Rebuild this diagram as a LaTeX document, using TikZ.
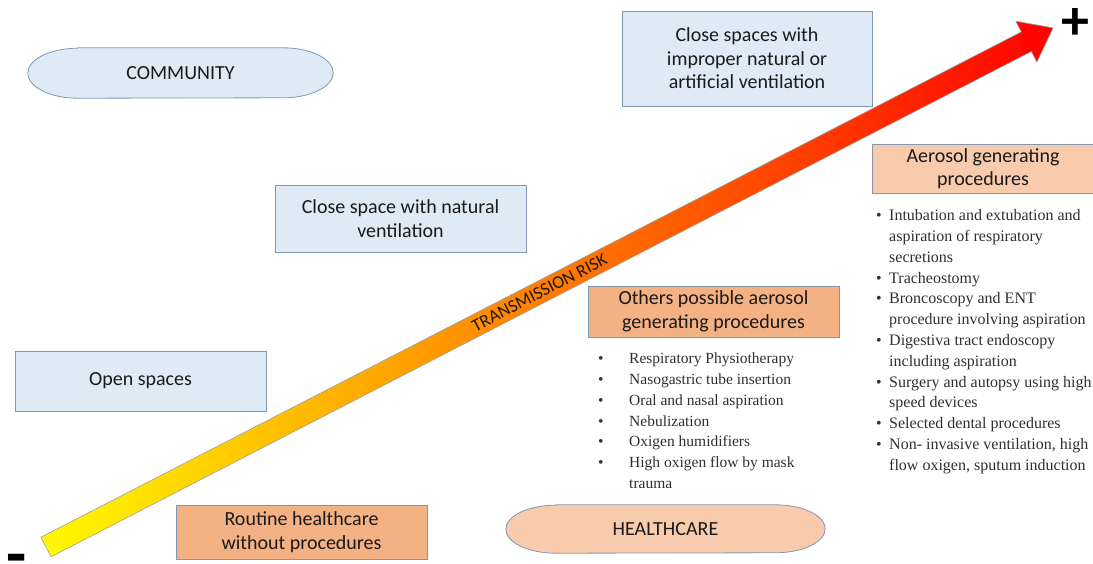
\documentclass[tikz,border=0pt]{standalone}
\usepackage{fontspec}
\setmainfont{Carlito}
\newfontfamily\serifx{Liberation Serif}
\usetikzlibrary{calc}
\pgfdeclarelayer{background}
\pgfsetlayers{background,main}
\definecolor{boxblue}{HTML}{DEEBF7}
\definecolor{boxorange}{HTML}{F4B183}
\definecolor{boxpeach}{HTML}{F8CBAD}
\definecolor{boxline}{HTML}{8497B0}
\definecolor{txt}{HTML}{1A1A1A}
\definecolor{listtxt}{HTML}{303030}
\definecolor{ayellow}{RGB}{255,250,0}
\definecolor{aorange}{RGB}{250,150,30}
\definecolor{ared}{RGB}{255,0,0}
\newcommand\pillpath[4]{%
  \begin{pgfonlayer}{background}
  \path[fill=#2, draw=boxline, line width=0.8pt]
    ([xshift=#3]#1.north west) -- ([xshift=-#3]#1.north east)
    arc[start angle=90, end angle=-90, x radius=#3, y radius=#4]
    -- ([xshift=#3]#1.south west)
    arc[start angle=-90, end angle=-270, x radius=#3, y radius=#4] -- cycle;
  \end{pgfonlayer}}
\begin{document}
\begin{tikzpicture}[x=1pt, y=-1pt,
  boxtext/.style={align=center, inner sep=0pt, text=txt,
    font=\fontsize{20}{23.5}\selectfont},
  bluebox/.style={boxtext, draw=boxline, line width=0.8pt, fill=boxblue},
  orangebox/.style={boxtext, draw=boxline, line width=0.8pt, fill=boxorange},
  peachbox/.style={boxtext, draw=boxline, line width=0.8pt, fill=boxpeach},
  listtext/.style={anchor=north west, inner sep=0pt, text=listtxt, align=left},
  signtext/.style={inner sep=0pt, text=black, anchor=base}]
\useasboundingbox (0,0) rectangle (1093,563);

% arrow
\coordinate (tail) at (46,547);
\coordinate (tip) at (1053,28);
\begin{scope}[shift={(tail)}, rotate=27.27]
  \path[left color=ayellow, middle color=aorange, right color=ared,
        draw=gray!75, line width=0.6pt]
    (0,-11) -- (1103,-11) -- (1103,-23) -- (1133,0) -- (1103,23) -- (1103,11) -- (0,11) -- cycle;
\end{scope}
\node[rotate=27.27, inner sep=0pt, text=txt, font=\fontsize{18}{18}\selectfont]
  (risk) at ($(tail)!0.49!(tip)$) {TRANSMISSION RISK};

\node[signtext, font=\bfseries\fontsize{56}{56}\selectfont] (plus) at (1075.5,39) {+};
\node[signtext, font=\bfseries\fontsize{66}{66}\selectfont] (minus) at (17,576) {-};

% community side
\node[boxtext, minimum width=305, minimum height=50] (community) at (180.5,73) {COMMUNITY};
\pillpath{community}{boxblue}{50pt}{25pt}
\node[bluebox, minimum width=250, minimum height=95] (improper) at (747,58.5)
  {Close spaces with\\improper natural or\\artificial ventilation};
\node[bluebox, minimum width=251, minimum height=67] (natural) at (400.5,218.5)
  {Close space with natural\\ventilation};
\node[bluebox, minimum width=251, minimum height=60] (open) at (140.5,381)
  {Open spaces};

% healthcare side
\node[orangebox, minimum width=251, minimum height=54] (routine) at (301.5,532)
  {Routine healthcare\\without procedures};
\node[boxtext, minimum width=319, minimum height=48] (healthcare) at (665.5,529) {HEALTHCARE};
\pillpath{healthcare}{boxpeach}{50pt}{24pt}
\node[orangebox, minimum width=251, minimum height=51] (others) at (713.5,311.5)
  {Others possible aerosol\\generating procedures};
\node[peachbox, minimum width=222, minimum height=49] (aerosol) at (983,168.5)
  {Aerosol generating\\procedures};

\node[listtext, font=\serifx\fontsize{15.5}{20.8}\selectfont] (otherlist) at (598,349)
  {\begin{tabular}{@{}p{31pt}@{}l@{}}
   \textbullet & Respiratory Physiotherapy\\
   \textbullet & Nasogastric tube insertion\\
   \textbullet & Oral and nasal aspiration\\
   \textbullet & Nebulization\\
   \textbullet & Oxigen humidifiers\\
   \textbullet & High oxigen flow by mask\\
               & trauma
   \end{tabular}};

\node[listtext, font=\serifx\fontsize{16}{20.8}\selectfont] (aerolist) at (876,206)
  {\begin{tabular}{@{}p{13pt}@{}l@{}}
   \textbullet & Intubation and extubation and\\
               & aspiration of respiratory\\
               & secretions\\
   \textbullet & Tracheostomy\\
   \textbullet & Broncoscopy and ENT\\
               & procedure involving aspiration\\
   \textbullet & Digestiva tract endoscopy\\
               & including aspiration\\
   \textbullet & Surgery and autopsy using high\\
               & speed devices\\
   \textbullet & Selected dental procedures\\
   \textbullet & Non- invasive ventilation, high\\
               & flow oxigen, sputum induction
   \end{tabular}};
\end{tikzpicture}
\end{document}
